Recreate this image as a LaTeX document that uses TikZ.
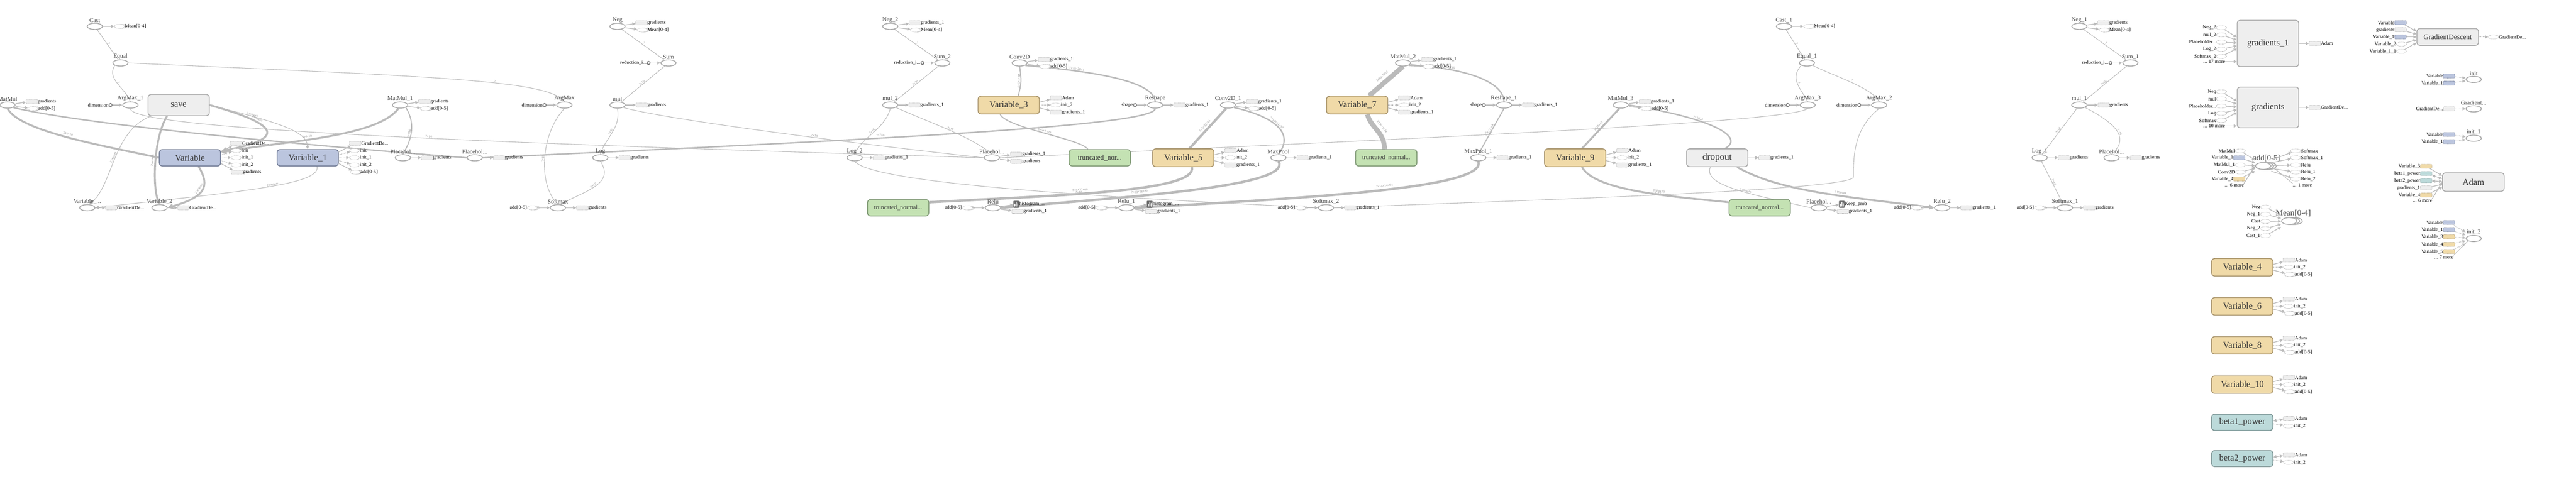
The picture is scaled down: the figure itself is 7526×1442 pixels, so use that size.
\documentclass[tikz,border=0pt]{standalone}
\usepackage{fontspec}
\setmainfont{Liberation Serif}
\usetikzlibrary{arrows.meta,shapes.geometric,shadows,positioning,calc}

\definecolor{edgec}{RGB}{186,186,186}
\definecolor{opc}{RGB}{170,170,170}
\definecolor{cnstc}{RGB}{120,120,120}
\definecolor{refc}{RGB}{238,238,238}
\definecolor{lblc}{RGB}{70,70,70}
\definecolor{bigc}{RGB}{55,55,55}
\definecolor{varblue}{RGB}{187,197,222}
\definecolor{varbluel}{RGB}{112,122,148}
\definecolor{vartan}{RGB}{240,218,168}
\definecolor{vartanl}{RGB}{168,148,108}
\definecolor{greenf}{RGB}{196,226,179}
\definecolor{greenl}{RGB}{126,152,116}
\definecolor{tealf}{RGB}{188,218,218}
\definecolor{teall}{RGB}{125,150,150}
\definecolor{histc}{RGB}{112,112,112}
\definecolor{elabc}{RGB}{140,140,140}

\newcommand{\fsm}{\fontsize{14.5}{16}\selectfont}
\newcommand{\flb}{\fontsize{17.5}{20}\selectfont}
\newcommand{\fbig}{\fontsize{26}{30}\selectfont}
\newcommand{\fel}{\fontsize{9.5}{10}\selectfont}
\newcommand{\tdots}{...}

\pgfdeclarelayer{back}
\pgfdeclarelayer{bg}
\pgfsetlayers{back,bg,main}

% refs on the right of a node: style/arrow/dx/dy/text
\newcommand{\refsout}[2]{%
  \foreach \st/\ar/\dx/\dy/\tx [count=\i] in {#2} {
    \node[\st, label={[sm, name=#1-t\i]0:\tx}] (#1-o\i) at ($(#1.center)+(\dx,\dy)$) {};
    \draw[\ar] ($(#1.east)+(0,0.4*\dy)$) -- (#1-o\i);
  }}
% refs on the left of a node
\newcommand{\refsin}[2]{%
  \foreach \st/\ar/\dx/\dy/\tx [count=\i] in {#2} {
    \node[\st, label={[sm, name=#1-u\i]180:\tx}] (#1-i\i) at ($(#1.center)+(\dx,\dy)$) {};
    \draw[\ar] (#1-i\i) -- ($(#1.west)+(0,0.4*\dy)$);
  }}

\begin{document}
\begin{tikzpicture}[x=1pt, y=-1pt,
  sm/.style={font=\fsm, text=black, inner sep=0pt},
  lbl/.style={font=\flb, text=lblc, inner sep=1pt},
  op/.style={ellipse, draw=opc, line width=2.4pt, fill=white, minimum width=45pt, minimum height=18pt, inner sep=0pt, label distance=5pt},
  opl/.style={op, label={[lbl]90:#1}},
  cnst/.style={circle, draw=cnstc, line width=2.4pt, fill=white, minimum size=9pt, inner sep=0pt, label distance=5pt},
  rbox/.style={rectangle, rounded corners=2pt, draw=opc, line width=1pt, dash pattern=on 2pt off 1.5pt, fill=refc, minimum width=34pt, minimum height=12pt, inner sep=0pt, label distance=5pt},
  rblue/.style={rbox, fill=varblue, draw=varbluel},
  rtan/.style={rbox, fill=vartan, draw=vartanl},
  rteal/.style={rbox, fill=tealf, draw=teall},
  rop/.style={ellipse, draw=opc, line width=1pt, dash pattern=on 2pt off 1.5pt, fill=white, minimum width=30pt, minimum height=12pt, inner sep=0pt, label distance=5pt},
  rstack/.style={rop, copy shadow={shadow xshift=7pt, shadow yshift=0pt}, copy shadow={shadow xshift=3.5pt, shadow yshift=0pt}, label distance=12pt},
  hist/.style={rectangle, rounded corners=2pt, fill=histc, minimum width=17pt, minimum height=21pt, inner sep=0pt, label distance=4pt,
    path picture={\foreach \bx/\bh in {-5/9,-1/15,3/11} \fill[white] ([xshift=\bx pt, yshift=-7pt]path picture bounding box.center) rectangle ++(2.4pt,\bh pt);}},
  big/.style={rectangle, rounded corners=9pt, line width=2.4pt, minimum width=179pt, minimum height=50pt, font=\fbig, text=bigc, inner sep=0pt},
  graybox/.style={big, draw=opc, fill=refc},
  bluebox/.style={big, draw=varbluel, fill=varblue, minimum height=48pt},
  tanbox/.style={big, draw=vartanl, fill=vartan, minimum height=52pt},
  greenbox/.style={big, draw=greenl, fill=greenf, minimum height=48pt, font=\fontsize{18}{20}\selectfont},
  tealbox/.style={big, draw=teall, fill=tealf, minimum height=47pt},
  thinln/.style={draw=edgec, line width=1.6pt},
  ln3/.style={draw=edgec, line width=3pt},
  ln4/.style={draw=edgec, line width=4pt},
  ln5/.style={draw=edgec, line width=5.5pt},
  ln7/.style={draw=edgec, line width=7pt},
  ln14/.style={draw=edgec, line width=14pt},
  endtip/.style={-{Triangle[length=#1,width=#1]}},
  outarr/.style={draw=edgec, line width=2pt, -{Triangle[length=9pt,width=9pt]}},
  ctrl/.style={outarr, dash pattern=on 2pt off 2pt},
  bidir/.style={draw=edgec, line width=2pt, {Triangle[length=9pt,width=9pt]}-{Triangle[length=9pt,width=9pt]}},
  elab/.style={font=\fel, text=elabc, sloped, inner sep=1pt, above},
]
\begin{pgfonlayer}{back}
\fill[white] (0,0) rectangle (7526,1442);
\end{pgfonlayer}
\useasboundingbox (0,0) rectangle (7526,1442);

% row A
\node[opl=Cast] (cast) at (277,77) {};
\node[opl=Neg] (neg) at (1804,77) {};
\node[opl=Neg\_2] (negb) at (2601,77) {};
\node[opl=Cast\_1] (castb) at (5212,77) {};
\node[opl=Neg\_1] (nega) at (6075,77) {};
% row B
\node[opl=Equal] (equal) at (352,184) {};
\node[opl=Sum] (sum) at (1953,184) {};
\node[opl=Sum\_2] (sumb) at (2753,184) {};
\node[opl=Conv2D] (conv) at (2979,184) {};
\node[opl=MatMul\_2] (matmulc) at (4099,184) {};
\node[opl=Equal\_1] (equala) at (5279,184) {};
\node[opl=Sum\_1] (suma) at (6224,184) {};
% row C
\node[opl=MatMul] (matmul) at (22,307) {};
\node[opl=ArgMax\_1] (argmaxa) at (381,307) {};
\node[opl=MatMul\_1] (matmula) at (1169,307) {};
\node[opl=ArgMax] (argmax) at (1649,307) {};
\node[opl=mul] (mul) at (1804,307) {};
\node[opl=mul\_2] (mulb) at (2601,307) {};
\node[opl=Reshape] (reshape) at (3375,307) {};
\node[opl=Conv2D\_1] (conva) at (3588,307) {};
\node[opl=Reshape\_1] (reshapea) at (4394,307) {};
\node[opl=MatMul\_3] (matmuld) at (4735,307) {};
\node[opl=ArgMax\_3] (argmaxc) at (5281,307) {};
\node[opl=ArgMax\_2] (argmaxb) at (5490,307) {};
\node[opl=mul\_1] (mula) at (6075,307) {};
\node[graybox, minimum height=62pt] (save) at (522,307) {save};
\node[tanbox] (var3) at (2947,307) {Variable\_3};
\node[tanbox] (var7) at (3965,307) {Variable\_7};
% row D
\node[opl=Placehol...] (ph) at (1177,461) {};
\node[opl=Placehol...] (pha) at (1387,461) {};
\node[opl=Log] (log) at (1754,461) {};
\node[opl=Log\_2] (logb) at (2497,461) {};
\node[opl=Placehol...] (phb) at (2898,461) {};
\node[opl=MaxPool] (maxpool) at (3735,461) {};
\node[opl=MaxPool\_1] (maxpoola) at (4319,461) {};
\node[opl=Log\_1] (loga) at (5959,461) {};
\node[opl=Placehol...] (phc) at (6169,461) {};
\node[bluebox] (var) at (555,461) {Variable};
\node[bluebox] (vara) at (899,461) {Variable\_1};
\node[greenbox, font=\fontsize{20.5}{22}\selectfont] (tn) at (3213,461) {truncated\_nor...};
\node[tanbox] (var5) at (3457,461) {Variable\_5};
\node[greenbox] (tna) at (4050,461) {truncated\_normal...};
\node[tanbox] (var9) at (4602,461) {Variable\_9};
\node[graybox, minimum height=52pt, font=\fontsize{27.5}{30}\selectfont] (dropout) at (5017,461) {dropout};
% row E
\node[opl=Variable\_...] (varx) at (255,607) {};
\node[opl=Variable\_2] (varb) at (466,607) {};
\node[opl=Softmax] (softmax) at (1630,607) {};
\node[opl=Relu] (relu) at (2901,607) {};
\node[opl=Relu\_1] (relua) at (3291,607) {};
\node[opl=Softmax\_2] (softmaxb) at (3874,607) {};
\node[opl=Placehol...] (phd) at (5314,607) {};
\node[opl=Relu\_2] (relub) at (5674,607) {};
\node[opl=Softmax\_1] (softmaxa) at (6033,607) {};
\node[greenbox] (tnb) at (2624,607) {truncated\_normal...};
\node[greenbox] (tnc) at (5141,607) {truncated\_normal...};

% connectors
\begin{pgfonlayer}{bg}
\draw[thinln] (cast) -- node[elab]{?} (equal);
\draw[thinln] (equal.south west) .. controls +(-25,40) and +(-15,-40) .. node[elab]{?} (argmaxa.north);
\draw[thinln] (equal.east) .. controls (1300,225) and (1600,235) .. node[elab, pos=.6]{?} (argmax.north);
\draw[ln5] (matmul.south) .. controls (60,385) and (300,425) .. node[elab, above=3pt]{784×10} (var.west);
\draw[ln4] (matmul.south east) .. controls (250,365) and (900,425) .. (pha.west);
\draw[ln5, endtip=16pt] (save.east) .. controls (820,365) and (835,405) .. node[elab, pos=.3, above=3pt]{2 tensors} (var.12);
\draw[thinln, endtip=10pt] (save.east) .. controls (800,355) and (895,380) .. node[elab, pos=.25]{2 tensors} (vara.north);
\draw[ln5, endtip=16pt] ([xshift=-34pt]save.south) .. controls (450,400) and (445,540) .. node[elab, above=3pt]{2 tensors} (varb.north);
\draw[thinln, endtip=10pt] ([xshift=-80pt]save.south) .. controls (330,380) and (330,540) .. node[elab]{2 tensors} (varx.60);
\draw[ln5, endtip=16pt] ([xshift=25pt]var.south) .. controls (615,545) and (600,575) .. node[elab, above=3pt]{2 tensors} (varb.east);
\draw[thinln, endtip=10pt] ([xshift=27pt]vara.south) .. controls (940,540) and (700,560) .. node[elab, pos=.45]{2 tensors} (varx.east);
\draw[ln5, endtip=16pt] ([xshift=-5pt]matmula.south) .. controls (1100,400) and (850,410) .. node[elab, pos=.6, above=3pt]{784×10} (var.10);
\draw[ln3] (matmula.south east) .. controls (1220,370) and (1195,420) .. node[elab]{?×784} (ph.north);
\draw[thinln] (argmaxa.south) .. controls (380,380) and (1500,420) .. node[elab, pos=.55]{?×10} (phb.west);
\draw[ln4] (pha.east) .. controls (2500,410) and (3375,370) .. node[elab, pos=.4, above=2pt]{?×784} (reshape.south);
\draw[thinln] (argmax.south) .. controls (1580,390) and (1570,540) .. node[elab]{?×10} (softmax.north);
\draw[thinln] (log.south) .. controls (1800,540) and (1700,560) .. node[elab]{?×10} (softmax.50);
\draw[thinln] (mul.south) .. controls +(10,60) and +(15,-50) .. node[elab]{?×10} (log.north);
\draw[thinln] (sum) -- node[elab]{?×10} (mul);
\draw[thinln] (neg) -- node[elab]{?} (sum);
\draw[thinln] (mul.south east) .. controls (1950,350) and (2500,420) .. node[elab, pos=.6]{?×10} (phb.west);
\draw[thinln] (negb) -- node[elab]{?} (sumb);
\draw[thinln] (sumb) -- node[elab]{?×10} (mulb);
\draw[thinln] (mulb.south) .. controls +(-15,60) and +(20,-50) .. node[elab]{?×10} (logb.north);
\draw[thinln] (mulb.south east) .. controls (2720,360) and (2840,400) .. node[elab]{?×10} (phb.north);
\draw[thinln] (logb.south) .. controls (2550,540) and (3300,580) .. node[elab, pos=.6]{?×10} (softmaxb.west);
\draw[ln3] ([xshift=28pt]var3.north) .. controls +(10,-40) and +(5,40) .. node[elab]{5×5×1×32} (conv.south);
\draw[ln4] (reshape.north) .. controls (3372,230) and (3150,205) .. node[elab, pos=.7]{?×28×28×1} (conv.south east);
\draw[ln3] ([xshift=-25pt]var3.south) .. controls +(20,40) and +(-20,-30) .. node[elab]{5×5×1×32} ([xshift=-35pt]tn.north);
\draw[ln7] ([xshift=18pt]var5.north) -- node[elab, above=4pt]{5×5×32×64} ([xshift=-6pt]conva.south);
\draw[ln7] ([xshift=25pt]var5.south) .. controls (3500,560) and (3100,570) .. node[elab, pos=.6, above=4pt]{5×5×32×64} (tnb.10);
\draw[ln4] (maxpool.north) .. controls (3790,380) and (3700,335) .. node[elab]{?×14×14×32} (conva.south east);
\draw[ln7] (maxpool.south) .. controls (3780,545) and (3300,575) .. node[elab, pos=.65, above=4pt]{?×28×28×32} (relu.east);
\draw[ln7] (relua.east) .. controls (3900,575) and (4345,545) .. node[elab, pos=.5, above=4pt]{?×14×14×64} (maxpoola.south);
\draw[ln3] (maxpoola.north) -- node[elab]{?×7×7×64} (reshapea.south);
\draw[ln4] (reshapea.north) .. controls (4392,230) and (4250,195) .. node[elab, pos=.7]{?×3136} (matmulc.south east);
\draw[ln14] ([xshift=35pt]var7.north) -- node[elab, above=7pt]{3136×1024} (matmulc.south);
\draw[ln14] ([xshift=30pt]var7.south) .. controls +(10,40) and +(0,-50) .. node[elab, above=7pt]{3136×1024} ([xshift=-5pt]tna.north);
\draw[ln5] ([xshift=20pt]var9.north) -- node[elab, above=3pt]{1024×10} ([xshift=-4pt]matmuld.south);
\draw[ln5] ([xshift=20pt]var9.south) .. controls (4660,560) and (4900,575) .. node[elab, pos=.6, above=3pt]{1024×10} (tnc.170);
\draw[ln4] (matmuld.east) .. controls (5000,345) and (5100,400) .. node[elab, pos=.35]{?×1024} ([xshift=23pt]dropout.north);
\draw[ln5, endtip=14pt] ([xshift=58pt]dropout.south) .. controls (5200,560) and (5400,575) .. node[elab, pos=.6, above=3pt]{2 tensors} (relub.west);
\draw[thinln] (phd.west) .. controls (5100,565) and (4975,540) .. node[elab, pos=.4]{2 tensors} ([xshift=-20pt]dropout.south);
\draw[thinln] (argmaxc.south) .. controls (5230,360) and (4000,410) .. node[elab, pos=.55]{?×10} (phb.east);
\draw[thinln] (argmaxb.south) .. controls +(-75,60) and +(0,-60) .. ++(-75,200) .. controls +(0,40) and +(500,-20) .. node[elab, pos=.5]{?×10} (softmaxb.east);
\draw[thinln] (equala.south west) .. controls +(-35,40) and +(-20,-40) .. node[elab]{?} (argmaxc.north);
\draw[thinln] (equala.south east) .. controls +(60,30) and +(-20,-40) .. node[elab]{?} (argmaxb.north);
\draw[thinln] (castb) -- node[elab]{?} (equala);
\draw[thinln] (nega) -- node[elab]{?} (suma);
\draw[thinln] (suma) -- node[elab]{?×10} (mula);
\draw[thinln] (mula) -- node[elab]{?×10} (loga);
\draw[thinln] (mula.south east) .. controls (6200,370) and (6215,410) .. node[elab]{?×10} (phc.north);
\draw[thinln] (loga) -- node[elab]{?×10} (softmaxa);
\end{pgfonlayer}

% references of the ops
\refsout{cast}{rstack/outarr/72/0/Mean[0-4]}
\refsout{castb}{rstack/outarr/72/0/Mean[0-4]}
\foreach \n in {neg,nega} {\refsout{\n}{rbox/outarr/70/-10.5/gradients, rstack/outarr/72/10.5/Mean[0-4]}}
\refsout{negb}{rbox/outarr/72/-10.5/gradients\_1, rstack/outarr/74/10.5/Mean[0-4]}
\foreach \n in {matmul,matmula} {\refsout{\n}{rbox/outarr/71/-10.5/gradients, rstack/outarr/74/10.5/add[0-5]}}
\foreach \n in {conv,matmulc,conva,matmuld} {\refsout{\n}{rbox/outarr/71/-10.5/gradients\_1, rstack/outarr/74/10.5/add[0-5]}}
\foreach \n in {mul,mula,ph,pha,log,loga,phc,softmax,softmaxa} {\refsout{\n}{rbox/outarr/71/0/gradients}}
\foreach \n in {mulb,reshape,reshapea,logb,maxpool,maxpoola,softmaxb,relub} {\refsout{\n}{rbox/outarr/71/0/gradients\_1}}
\refsout{phb}{rbox/outarr/71/-10.5/gradients\_1, rbox/outarr/71/10.5/gradients}
\foreach \n in {varx,varb} {\refsout{\n}{rbox/outarr/70/0/GradientDe\tdots}}
\foreach \n in {relu,relua} {\refsout{\n}{hist/outarr/68/-10/histogram\_\tdots, rbox/outarr/72/11/gradients\_1}}
\refsout{phd}{hist/outarr/67/-10/Keep\_prob, rbox/outarr/70/11/gradients\_1}
\foreach \n in {softmax,relu,relua,softmaxb,relub,softmaxa} {\refsin{\n}{rstack/outarr/-75/0/add[0-5]}}
\foreach \n in {argmaxa,argmax,argmaxc,argmaxb} {\refsin{\n}{cnst/outarr/-58/0/dimension}}
\foreach \n in {sum,sumb,suma} {\refsin{\n}{cnst/outarr/-58/0/reduction\_i\tdots}}
\foreach \n in {reshape,reshapea} {\refsin{\n}{cnst/outarr/-59/0/shape}}

% references of the boxes
\refsout{var}{rbox/outarr/135/-42/GradientDe\tdots, rop/ctrl/135/-21/init, rop/ctrl/135/0/init\_1, rop/ctrl/135/21/init\_2, rbox/outarr/137/42/gradients}
\refsout{vara}{rbox/outarr/139/-42/GradientDe\tdots, rop/ctrl/137/-21/init, rop/ctrl/137/0/init\_1, rop/ctrl/137/21/init\_2, rstack/outarr/139/42/add[0-5]}
\foreach \n in {var3,var5,var7,var9} {\refsout{\n}{rbox/outarr/138/-21/Adam, rop/ctrl/137/0/init\_2, rbox/outarr/138/21/gradients\_1}}
\refsout{dropout}{rbox/outarr/138/0/gradients\_1}

% right column
\foreach \n/\y/\t in {var4/781/Variable\_4, var6/895/Variable\_6, var8/1009/Variable\_8, var10/1124/Variable\_10} {
  \node[tanbox, minimum height=51pt] (\n) at (6551,\y) {\t};
  \refsout{\n}{rbox/outarr/136/-21/Adam, rop/ctrl/135/0/init\_2, rstack/outarr/138/21/add[0-5]}
}
\foreach \n/\y/\t in {beta1/1234/beta1\_power, beta2/1340/beta2\_power} {
  \node[tealbox] (\n) at (6551,\y) {\t};
  \refsout{\n}{rbox/bidir/136/-11/Adam, rop/ctrl/135/11/init\_2}
}

% auxiliary nodes
\node[graybox, minimum width=180pt, minimum height=135pt] (gradsa) at (6626,127) {gradients\_1};
\refsin{gradsa}{rop/outarr/-136/-46/Neg\_2, rop/outarr/-136/-25/mul\_2, rop/outarr/-136/-4/Placeholder\tdots, rop/outarr/-136/17/Log\_2, rop/outarr/-136/38/Softmax\_2}
\node[sm, anchor=east] (gradsa-more) at (6501,180) {... 17 more};
\draw[outarr] (gradsa-more.east) -- (gradsa.west |- gradsa-more);
\refsout{gradsa}{rbox/outarr/137/0/Adam}

\node[graybox, minimum width=180pt, minimum height=119pt] (grads) at (6626,314) {gradients};
\refsin{grads}{rop/outarr/-136/-46/Neg, rop/outarr/-136/-25/mul, rop/outarr/-136/-4/Placeholder\tdots, rop/outarr/-136/17/Log, rop/outarr/-136/38/Softmax}
\node[sm, anchor=east] (grads-more) at (6501,368) {... 10 more};
\draw[outarr] (grads-more.east) -- (grads.west |- grads-more);
\refsout{grads}{rbox/outarr/137/0/GradientDe\tdots}

\node[op, minimum height=20pt, copy shadow={shadow xshift=16pt, shadow yshift=0pt}, copy shadow={shadow xshift=8pt, shadow yshift=0pt},
  label={[lbl, font=\fontsize{23}{26}\selectfont, xshift=10pt]90:{add[0-5]}}] (addn) at (6612,485) {};
\refsin{addn}{rop/outarr/-67/-44/MatMul, rblue/outarr/-70/-24/Variable\_1, rop/outarr/-67/-3/MatMul\_1, rop/outarr/-67/18/Conv2D, rtan/outarr/-70/38/Variable\_4}
\node[sm, anchor=east] (addn-more) at (6556,541) {... 6 more};
\draw[outarr] (addn-more.north east) -- (addn.west);
\refsout{addn}{rop/outarr/95/-44/Softmax, rop/outarr/95/-24/Softmax\_1, rop/outarr/95/-3/Relu, rop/outarr/95/18/Relu\_1, rop/outarr/95/38/Relu\_2}
\node[sm, anchor=west] (addn-more2) at (6698,541) {... 1 more};
\draw[thinln] (addn.east) -- (addn-more2.north west);

\node[op, minimum height=20pt, copy shadow={shadow xshift=16pt, shadow yshift=0pt}, copy shadow={shadow xshift=8pt, shadow yshift=0pt},
  label={[lbl, font=\fontsize{24}{26}\selectfont, xshift=12pt]90:{Mean[0-4]}}] (meann) at (6688,646) {};
\refsin{meann}{rop/outarr/-69/-41/Neg, rop/outarr/-69/-20/Neg\_1, rop/outarr/-69/1/Cast, rop/outarr/-69/22/Neg\_2, rop/outarr/-69/43/Cast\_1}

\node[graybox, minimum width=180pt, minimum height=49pt, font=\fontsize{21}{24}\selectfont] (gd) at (7151,108) {GradientDescent};
\refsin{gd}{rblue/outarr/-138/-42/Variable, rbox/outarr/-138/-21/gradients, rblue/outarr/-138/0/Variable\_1, rop/outarr/-135/21/Variable\_2, rop/outarr/-135/42/Variable\_1\_1}
\refsout{gd}{rop/ctrl/134/0/GradientDe\tdots}

\node[opl=init] (init) at (7227,232) {};
\refsin{init}{rblue/ctrl/-72/-10/Variable, rblue/ctrl/-72/11/Variable\_1}
\node[opl=Gradient...] (gdop) at (7227,318) {};
\refsin{gdop}{rbox/ctrl/-72/0/GradientDe\tdots}
\node[opl=init\_1] (inita) at (7227,404) {};
\refsin{inita}{rblue/ctrl/-72/-11/Variable, rblue/ctrl/-72/10/Variable\_1}

\node[graybox, minimum width=180pt, minimum height=54pt] (adam) at (7226,532) {Adam};
\refsin{adam}{rtan/outarr/-138/-46/Variable\_3, rteal/bidir/-138/-25/beta1\_power, rteal/bidir/-138/-4/beta2\_power, rbox/outarr/-138/17/gradients\_1, rtan/outarr/-138/38/Variable\_4}
\node[sm, anchor=east] (adam-more) at (7106,586) {... 6 more};
\draw[outarr] (adam-more.north east) -- (adam.west);

\node[opl=init\_2] (initb) at (7227,697) {};
\refsin{initb}{rblue/ctrl/-72/-47/Variable, rblue/ctrl/-72/-26/Variable\_1, rtan/ctrl/-72/-5/Variable\_3, rtan/ctrl/-72/17/Variable\_4, rtan/ctrl/-72/38/Variable\_5}
\node[sm, anchor=east] (initb-more) at (7168,751) {... 7 more};
\draw[thinln] (initb-more.north east) -- (initb.south west);
\end{tikzpicture}
\end{document}
